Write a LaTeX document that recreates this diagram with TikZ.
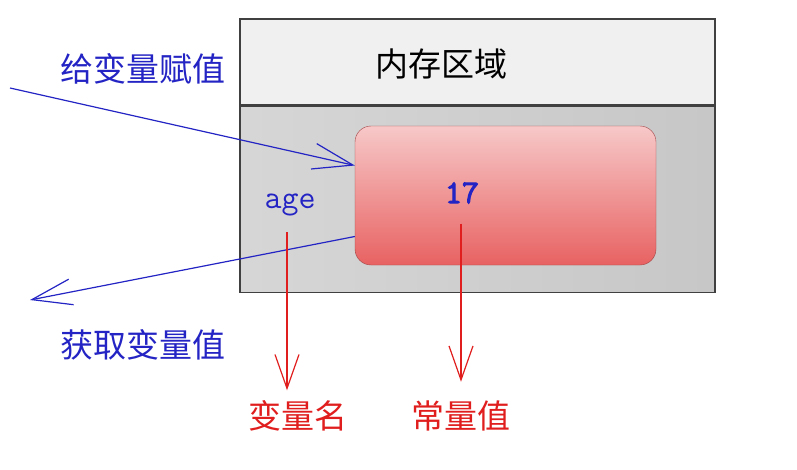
\documentclass[tikz,border=0pt]{standalone}
\usepackage{fontspec}
\usepackage{tikz}
\usetikzlibrary{arrows.meta}
\usetikzlibrary{positioning}
\newfontfamily\cjk{Noto Sans CJK SC}
\newfontfamily\negrito[FakeBold=3]{Latin Modern Mono}
\definecolor{azul}{HTML}{2424C4}
\definecolor{vermelho}{HTML}{E01E1E}
\definecolor{celula}{HTML}{E86262}
\tikzset{
  rotulo/.style={font=\cjk\fontsize{33}{36}\selectfont, text=#1, inner sep=0pt},
  rotulo/.default=black,
  cabecalho/.style={draw=black!75, line width=1.2pt, fill=gray!12, minimum width=475pt, minimum height=86pt, inner sep=0pt},
  memoria/.style={draw=black!75, line width=1.2pt, left color=gray!32, right color=gray!44, minimum width=475pt, minimum height=186pt, inner sep=0pt},
  valor/.style={draw=celula!70!black, rounded corners=16pt, top color=celula!35!white, bottom color=celula, minimum width=301pt, minimum height=139pt, inner sep=0pt},
  codigo/.style={font=\ttfamily\fontsize{33}{35}\selectfont, text=azul, inner sep=0pt},
  seta/.style={-{Straight Barb[length=40pt, width=26pt]}, line width=1.2pt},
}
\begin{document}
\begin{tikzpicture}[x=1pt, y=-1pt]
  \useasboundingbox (0,0) rectangle (797,469);
  % memory area
  \node[cabecalho] (hdr) at (477.5,62) {};
  \node[rotulo] (titulo) at (441,64) {内存区域};
  \node[memoria, below=0pt of hdr] (mem) {};
  \node[valor] (val) at (505.5,195.5) {};
  \node[codigo, font=\negrito\fontsize{33}{35}\selectfont] (num) at (462,193) {17};
  \node[codigo] (age) at (290,205) {age};
  % blue arrows
  \coordinate (ent) at (10,88);
  \coordinate (sai) at (30,300);
  \node[rotulo=azul] (atrib) at (143,69) {给变量赋值};
  \node[rotulo=azul] (obter) at (143,345) {获取变量值};
  \draw[seta, azul] (ent) -- ([yshift=30pt]val.west);
  \draw[seta, azul] ([yshift=-41pt]val.west) -- (sai);
  % red arrows
  \node[rotulo=vermelho] (nome) at (298,416) {变量名};
  \node[rotulo=vermelho] (const) at (461,416) {常量值};
  \draw[seta, vermelho, -{Straight Barb[length=34pt, width=24pt]}] ([xshift=-3pt, yshift=-16pt]age.south) -- ++(0,158);
  \draw[seta, vermelho, -{Straight Barb[length=34pt, width=24pt]}] ([xshift=-1pt, yshift=-20pt]num.south) -- ++(0,158);
\end{tikzpicture}
\end{document}
